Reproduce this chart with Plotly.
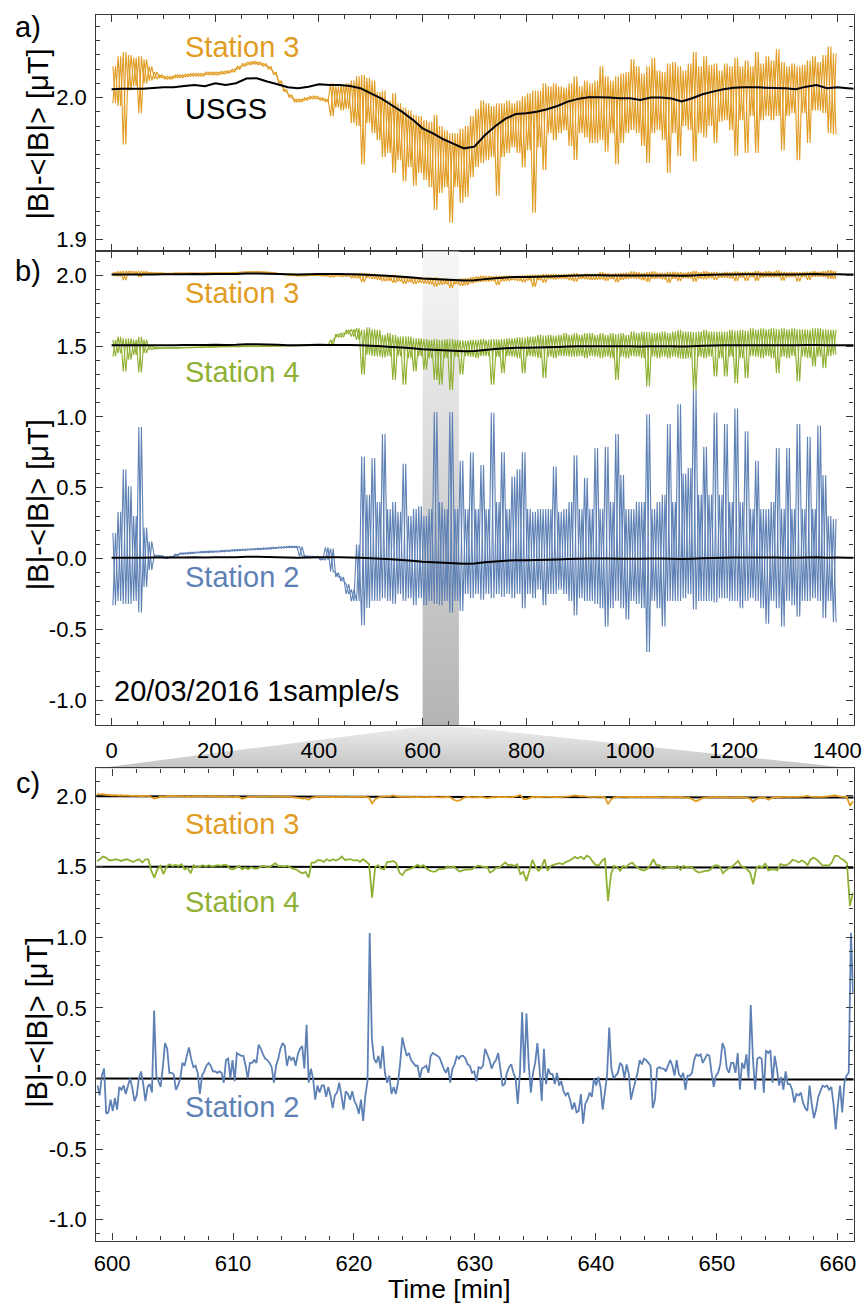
import plotly.graph_objects as go

FIG_W, FIG_H = 868, 1306
FONT = "Liberation Sans, Arial, Helvetica, sans-serif"
ORANGE = "#E19C24"
BLUE = "#5E81B5"
GREEN = "#8FB032"
FRAME = "#3a3a3a"

# ---------------------------------------------------------------------------
# Full day, 1 sample/s, summarised as min / max per 10-minute bin
# ---------------------------------------------------------------------------
bin_t = list(range(5, 1400, 10))  # bin centres [min]

st3_lo = [
    1.996, 1.994, 1.967, 2.005, 2.008, 1.989, 2.010, 2.012, 2.013, 2.014,
    2.013, 2.013, 2.014, 2.014, 2.0145, 2.015, 2.015, 2.015, 2.016, 2.016,
    2.016, 2.0165, 2.017, 2.018, 2.020, 2.022, 2.023, 2.0235, 2.023, 2.022,
    2.020, 2.016, 2.010, 2.004, 2.000, 1.997, 1.997, 1.998, 1.999, 1.999,
    1.998, 1.997, 1.987, 1.993, 1.991, 1.992, 1.982, 1.980, 1.953, 1.982,
    1.975, 1.970, 1.958, 1.961, 1.947, 1.956, 1.941, 1.951, 1.938, 1.947,
    1.942, 1.937, 1.921, 1.933, 1.937, 1.912, 1.937, 1.926, 1.930, 1.944,
    1.951, 1.954, 1.956, 1.958, 1.931, 1.958, 1.961, 1.965, 1.961, 1.951,
    1.963, 1.919, 1.965, 1.949, 1.975, 1.970, 1.975, 1.977, 1.966, 1.956,
    1.975, 1.972, 1.968, 1.968, 1.970, 1.962, 1.975, 1.953, 1.968, 1.975,
    1.977, 1.975, 1.966, 1.954, 1.975, 1.977, 1.970, 1.947, 1.975, 1.959,
    1.980, 1.977, 1.955, 1.975, 1.972, 1.980, 1.968, 1.983, 1.984, 1.977,
    1.959, 1.984, 1.961, 1.987, 1.961, 1.984, 1.987, 1.984, 1.987, 1.963,
    1.987, 1.989, 1.956, 1.989, 1.968, 1.991, 1.991, 1.989, 1.975, 1.974,
]
st3_hi = [
    2.022, 2.029, 2.032, 2.030, 2.028, 2.029, 2.027, 2.022, 2.018, 2.016,
    2.015, 2.015, 2.016, 2.016, 2.0165, 2.017, 2.017, 2.017, 2.018, 2.018,
    2.018, 2.0185, 2.019, 2.020, 2.022, 2.024, 2.025, 2.0255, 2.025, 2.024,
    2.022, 2.018, 2.012, 2.006, 2.002, 1.999, 1.999, 2.000, 2.001, 2.001,
    2.000, 1.999, 2.010, 2.008, 2.009, 2.010, 2.012, 2.015, 2.016, 2.014,
    2.012, 2.004, 2.005, 1.998, 2.003, 1.996, 1.993, 1.991, 1.988, 1.987,
    1.984, 1.983, 1.988, 1.980, 1.977, 1.975, 1.975, 1.978, 1.980, 1.987,
    1.992, 1.998, 1.996, 1.994, 1.996, 1.996, 1.998, 1.996, 1.998, 2.001,
    2.003, 2.005, 2.005, 2.010, 2.008, 2.010, 2.008, 2.007, 2.010, 2.015,
    2.008, 2.012, 2.010, 2.012, 2.022, 2.015, 2.012, 2.015, 2.017, 2.018,
    2.027, 2.022, 2.017, 2.022, 2.028, 2.019, 2.018, 2.024, 2.025, 2.022,
    2.019, 2.024, 2.032, 2.022, 2.029, 2.023, 2.024, 2.019, 2.024, 2.022,
    2.028, 2.022, 2.026, 2.022, 2.032, 2.024, 2.029, 2.026, 2.034, 2.025,
    2.022, 2.024, 2.022, 2.023, 2.026, 2.029, 2.025, 2.030, 2.036, 2.031,
]

st4_lo = [
    1.427, 1.450, 1.321, 1.404, 1.439, 1.314, 1.451, 1.474, 1.479, 1.483,
    1.484, 1.484, 1.485, 1.486, 1.487, 1.488, 1.489, 1.490, 1.491, 1.492,
    1.493, 1.494, 1.494, 1.495, 1.495, 1.496, 1.497, 1.497, 1.497, 1.498,
    1.498, 1.499, 1.499, 1.500, 1.500, 1.501, 1.502, 1.502, 1.503, 1.504,
    1.505, 1.506, 1.502, 1.564, 1.564, 1.587, 1.568, 1.545, 1.298, 1.439,
    1.430, 1.427, 1.420, 1.430, 1.262, 1.430, 1.227, 1.415, 1.321, 1.430,
    1.333, 1.415, 1.262, 1.227, 1.415, 1.190, 1.425, 1.298, 1.430, 1.425,
    1.415, 1.430, 1.430, 1.227, 1.425, 1.309, 1.430, 1.425, 1.415, 1.309,
    1.430, 1.425, 1.415, 1.274, 1.425, 1.415, 1.430, 1.430, 1.425, 1.425,
    1.430, 1.415, 1.430, 1.425, 1.415, 1.425, 1.415, 1.262, 1.425, 1.415,
    1.430, 1.425, 1.415, 1.215, 1.425, 1.415, 1.425, 1.415, 1.425, 1.415,
    1.410, 1.415, 1.190, 1.425, 1.415, 1.425, 1.286, 1.415, 1.286, 1.425,
    1.239, 1.415, 1.274, 1.430, 1.425, 1.415, 1.430, 1.415, 1.309, 1.425,
    1.415, 1.430, 1.250, 1.425, 1.415, 1.356, 1.425, 1.345, 1.430, 1.439,
]
st4_hi = [
    1.545, 1.568, 1.556, 1.556, 1.545, 1.566, 1.545, 1.509, 1.493, 1.489,
    1.490, 1.490, 1.491, 1.492, 1.493, 1.494, 1.495, 1.496, 1.497, 1.498,
    1.499, 1.500, 1.500, 1.501, 1.501, 1.502, 1.503, 1.503, 1.503, 1.504,
    1.504, 1.505, 1.505, 1.506, 1.506, 1.507, 1.508, 1.508, 1.509, 1.510,
    1.511, 1.512, 1.545, 1.585, 1.592, 1.615, 1.620, 1.627, 1.615, 1.634,
    1.620, 1.615, 1.580, 1.592, 1.580, 1.568, 1.570, 1.568, 1.556, 1.556,
    1.550, 1.545, 1.550, 1.545, 1.548, 1.550, 1.545, 1.542, 1.540, 1.545,
    1.545, 1.550, 1.545, 1.550, 1.548, 1.550, 1.556, 1.556, 1.563, 1.560,
    1.568, 1.568, 1.580, 1.575, 1.580, 1.575, 1.580, 1.592, 1.580, 1.592,
    1.580, 1.592, 1.592, 1.580, 1.592, 1.580, 1.592, 1.585, 1.592, 1.580,
    1.604, 1.592, 1.604, 1.600, 1.592, 1.596, 1.604, 1.592, 1.604, 1.615,
    1.604, 1.604, 1.600, 1.604, 1.615, 1.604, 1.604, 1.604, 1.604, 1.615,
    1.610, 1.615, 1.610, 1.627, 1.615, 1.627, 1.620, 1.627, 1.620, 1.627,
    1.620, 1.627, 1.620, 1.620, 1.615, 1.627, 1.627, 1.620, 1.615, 1.615,
]

st2_lo = [
    -0.33, -0.30, -0.32, -0.32, -0.30, -0.38, -0.20, -0.08, 0.015, 0.012,
    0.000, 0.005, 0.020, 0.030, 0.032, 0.035, 0.038, 0.040, 0.042, 0.044,
    0.045, 0.048, 0.050, 0.053, 0.055, 0.057, 0.059, 0.061, 0.063, 0.065,
    0.067, 0.070, 0.073, 0.075, 0.077, 0.077, 0.016, 0.012, 0.010, 0.008,
    -0.010, -0.010, -0.090, -0.130, -0.160, -0.250, -0.300, -0.300, -0.470, -0.350,
    -0.30, -0.30, -0.28, -0.30, -0.32, -0.25, -0.30, -0.28, -0.33, -0.28,
    -0.33, -0.30, -0.32, -0.33, -0.30, -0.38, -0.30, -0.37, -0.25, -0.28,
    -0.25, -0.29, -0.25, -0.28, -0.25, -0.27, -0.25, -0.28, -0.25, -0.35,
    -0.25, -0.28, -0.22, -0.33, -0.25, -0.25, -0.22, -0.25, -0.30, -0.40,
    -0.28, -0.30, -0.30, -0.32, -0.35, -0.48, -0.35, -0.30, -0.35, -0.43,
    -0.30, -0.32, -0.35, -0.66, -0.30, -0.35, -0.48, -0.30, -0.30, -0.30,
    -0.28, -0.25, -0.36, -0.30, -0.30, -0.30, -0.31, -0.28, -0.28, -0.30,
    -0.30, -0.35, -0.30, -0.28, -0.30, -0.35, -0.46, -0.30, -0.35, -0.48,
    -0.30, -0.33, -0.41, -0.30, -0.30, -0.28, -0.30, -0.42, -0.30, -0.45,
]
st2_hi = [
    0.18, 0.33, 0.63, 0.51, 0.30, 0.93, 0.22, 0.12, 0.025, 0.022,
    0.010, 0.015, 0.030, 0.040, 0.042, 0.045, 0.048, 0.050, 0.052, 0.054,
    0.055, 0.058, 0.060, 0.063, 0.065, 0.067, 0.069, 0.071, 0.073, 0.075,
    0.077, 0.080, 0.083, 0.085, 0.087, 0.087, 0.085, 0.020, 0.018, 0.016,
    0.000, 0.080, 0.070, -0.100, -0.130, -0.180, -0.220, 0.100, 0.720, 0.450,
    0.71, 0.40, 0.88, 0.35, 0.40, 0.33, 0.67, 0.30, 0.35, 0.37,
    0.30, 0.35, 1.035, 0.40, 0.35, 1.035, 0.35, 0.69, 0.35, 0.75,
    0.35, 0.66, 0.35, 1.03, 0.40, 0.75, 0.35, 0.58, 0.63, 0.75,
    0.35, 0.33, 0.35, 0.35, 0.35, 0.65, 0.33, 0.35, 0.40, 0.73,
    0.35, 0.57, 0.35, 0.78, 0.35, 0.79, 0.40, 0.88, 0.59, 0.35,
    0.35, 0.40, 0.40, 1.02, 0.35, 0.40, 0.45, 0.95, 0.40, 1.09,
    0.60, 0.64, 1.19, 0.45, 0.79, 0.45, 1.03, 0.45, 0.95, 0.40,
    1.06, 0.40, 0.90, 0.35, 0.69, 0.35, 0.35, 0.40, 0.78, 0.35,
    0.78, 0.35, 0.95, 0.35, 0.86, 0.35, 0.94, 0.59, 0.30, 0.28,
]

# USGS reference magnetometer, 20-minute values
usgs_t = list(range(0, 1441, 20))
usgs_v = [
    2.0059, 2.0063, 2.0063, 2.0063, 2.0068, 2.0073, 2.0073, 2.0082, 2.0089, 2.0080,
    2.0101, 2.0089, 2.0101, 2.0134, 2.0136, 2.0113, 2.0094, 2.0073, 2.0066, 2.0077,
    2.0094, 2.0089, 2.0089, 2.0082, 2.0066, 2.0030, 1.9995, 1.9948, 1.9901, 1.9847,
    1.9784, 1.9749, 1.9707, 1.9674, 1.9643, 1.9655, 1.9735, 1.9798, 1.9852, 1.9885,
    1.9890, 1.9901, 1.9918, 1.9941, 1.9972, 1.9991, 2.0002, 2.0002, 2.0000, 1.9995,
    1.9995, 1.9984, 2.0000, 2.0000, 1.9993, 1.9972, 1.9995, 2.0023, 2.0042, 2.0059,
    2.0070, 2.0073, 2.0073, 2.0070, 2.0068, 2.0066, 2.0059, 2.0077, 2.0089, 2.0066,
    2.0073, 2.0066, 2.0059,
]
usgs_shift = {"Station 3": 0.0, "Station 4": -0.5, "Station 2": -2.0}

zoom_window = [600, 670]  # minutes shown in the detail panel

# ---------------------------------------------------------------------------
# Detail panel c
# ---------------------------------------------------------------------------
st2_c_t0, st2_c_dt = 598.8, 0.18
st2_c = [
    -0.05, -0.12, 0.02, 0.07, -0.25, -0.24, -0.15, -0.23, -0.14, -0.22,
    -0.06, -0.08, -0.05, -0.11, -0.05, 0.00, -0.07, -0.16, -0.12, 0.00,
    0.05, -0.04, -0.16, -0.06, -0.04, -0.10, 0.48, 0.02, -0.02, -0.06,
    0.08, 0.25, 0.21, 0.04, 0.04, 0.03, -0.08, -0.05, 0.00, 0.11,
    0.09, 0.16, 0.22, 0.14, 0.08, 0.09, 0.04, -0.11, 0.02, 0.05,
    0.09, 0.11, 0.09, 0.05, 0.05, 0.04, 0.05, 0.04, -0.03, 0.13,
    0.14, 0.00, 0.13, -0.02, 0.18, 0.17, 0.16, 0.16, 0.09, 0.00,
    0.11, 0.11, 0.13, 0.11, 0.24, 0.21, 0.17, 0.14, 0.13, 0.11,
    0.08, -0.03, 0.09, 0.14, 0.21, 0.25, 0.23, 0.09, 0.16, 0.13,
    0.15, 0.09, 0.17, 0.21, 0.23, 0.07, 0.38, -0.03, 0.07, 0.00,
    -0.15, -0.05, -0.10, -0.05, -0.05, -0.13, -0.06, -0.12, -0.21, -0.12,
    -0.10, -0.03, -0.12, -0.22, -0.09, -0.11, -0.15, -0.09, -0.16, -0.19,
    -0.25, -0.15, -0.30, -0.12, -0.02, 1.03, 0.28, 0.14, 0.11, 0.16,
    0.07, 0.23, 0.04, -0.03, 0.02, -0.11, -0.06, -0.11, -0.03, 0.11,
    0.29, 0.22, 0.16, 0.18, 0.13, 0.11, 0.09,
    0.09, 0.00, 0.07, 0.08, 0.09, 0.04, 0.16, 0.18, 0.17, 0.16,
    0.15, 0.11, 0.07, 0.04, 0.08, -0.03, 0.07, 0.10, 0.16, 0.14,
    0.16, 0.16, 0.14, 0.10, 0.09, 0.04, 0.05, -0.02, 0.08, 0.07,
    0.09, 0.21, 0.17, 0.13, 0.07, 0.11, 0.13, 0.18, 0.07, -0.05,
    -0.04, 0.04, 0.08, 0.10, 0.04, 0.00, -0.18, 0.04, 0.47,
    0.04, 0.46, 0.11, -0.10, 0.04, 0.11, 0.25, 0.07, -0.16, 0.21,
    -0.04, 0.07, 0.03, 0.03, -0.04, 0.04, -0.05, -0.02, -0.09, -0.12,
    -0.10, -0.15, -0.22, -0.17, -0.24, -0.23, -0.11, -0.32, -0.18,
    -0.15, -0.10, -0.13, 0.00, -0.05, 0.01, -0.06, -0.22, -0.10, 0.02, 0.36,
    0.07, 0.00, 0.02, 0.04, 0.11, 0.09, 0.00, 0.10, 0.03, -0.15,
    -0.08, -0.02, 0.04, 0.13, 0.10, 0.14, 0.13, 0.11, 0.09, -0.21,
    -0.15, 0.07, 0.08, 0.07, 0.07, 0.05, 0.09, 0.13, 0.09,
    0.02, 0.13, 0.03, 0.01, 0.04, -0.08, 0.02, 0.02, 0.04, 0.13,
    0.17, 0.16, 0.17, 0.11, 0.14, 0.17, 0.16, 0.04, -0.06, 0.02,
    0.04, 0.10, 0.25, 0.21, 0.07, 0.04, 0.11, 0.11, 0.04, 0.18,
    -0.08, 0.11, 0.07, 0.17, 0.00, 0.52,
    0.14, -0.08, 0.14, 0.15, 0.14, -0.10, 0.20, 0.18, 0.20, -0.03,
    0.16, 0.07, -0.05, 0.01, -0.08, 0.05, -0.04, -0.04, -0.08, -0.17,
    -0.11, -0.12, -0.10, -0.17, -0.21, -0.23, -0.05, -0.18, -0.28, -0.22,
    -0.13, -0.09, -0.05, -0.06, -0.05, -0.08, -0.06, -0.18, -0.36, -0.19,
    -0.05, -0.24, -0.03, 0.02, 0.04, 1.03, 0.60,
]

c_t0, c_dt = 598.75, 0.25
st4_c = [
    1.539, 1.551, 1.570, 1.563, 1.544, 1.544, 1.551, 1.546, 1.539, 1.546,
    1.551, 1.542, 1.532, 1.544, 1.551, 1.528, 1.551, 1.551, 1.469, 1.421,
    1.480, 1.504, 1.445, 1.499, 1.516, 1.504, 1.511, 1.504, 1.516, 1.480,
    1.492, 1.452, 1.509, 1.492, 1.499, 1.509, 1.499, 1.509, 1.499, 1.504,
    1.509, 1.504, 1.511, 1.509, 1.485, 1.480, 1.492, 1.504, 1.480, 1.492,
    1.480, 1.495, 1.485, 1.485, 1.497, 1.504, 1.497, 1.495, 1.509, 1.523,
    1.502, 1.504, 1.499, 1.506, 1.492, 1.483, 1.478, 1.462, 1.452, 1.462,
    1.421, 1.528, 1.528, 1.544, 1.544, 1.532, 1.551, 1.539, 1.551, 1.542,
    1.551, 1.570, 1.546, 1.551, 1.551, 1.542, 1.546, 1.532, 1.551, 1.535,
    1.516, 1.280, 1.495, 1.509, 1.485, 1.480, 1.532, 1.532, 1.539, 1.523,
    1.457, 1.438, 1.471, 1.480, 1.487, 1.497, 1.513, 1.499, 1.509, 1.485,
    1.471, 1.464, 1.466, 1.480, 1.483, 1.485, 1.502, 1.492, 1.499, 1.480,
    1.464, 1.473, 1.480, 1.478, 1.480, 1.497, 1.506, 1.502, 1.495, 1.497,
    1.457, 1.469, 1.490, 1.492, 1.509, 1.528, 1.509, 1.513, 1.504, 1.516,
    1.445, 1.462, 1.398, 1.469, 1.546, 1.499, 1.469, 1.492, 1.551, 1.469,
    1.504, 1.511, 1.518, 1.523, 1.516, 1.532, 1.539, 1.551, 1.568, 1.556,
    1.570, 1.551, 1.577, 1.565, 1.532, 1.509, 1.509, 1.539, 1.558, 1.256,
    1.445, 1.504, 1.497, 1.469, 1.504, 1.495, 1.516, 1.528, 1.504, 1.490,
    1.476, 1.471, 1.485, 1.509, 1.551, 1.509, 1.509, 1.483, 1.487, 1.495,
    1.495, 1.492, 1.504, 1.476, 1.504, 1.495, 1.499, 1.490, 1.469, 1.457,
    1.462, 1.469, 1.469, 1.480, 1.504, 1.509, 1.499, 1.452, 1.473, 1.490,
    1.499, 1.518, 1.539, 1.504, 1.492, 1.480, 1.457, 1.374, 1.487, 1.504,
    1.492, 1.523, 1.473, 1.480, 1.480, 1.473, 1.516, 1.509, 1.509, 1.523,
    1.546, 1.542, 1.528, 1.542, 1.532, 1.509, 1.551, 1.561, 1.549, 1.528,
    1.506, 1.509, 1.506, 1.528, 1.575, 1.575, 1.556, 1.544, 1.523, 1.221,
    1.315,
]
st3_c = [
    2.012, 2.010, 2.011, 2.008, 2.006, 2.004, 2.005, 2.002, 2.004, 2.001,
    2.003, 2.000, 1.999, 2.002, 2.000, 1.997, 1.999, 2.000, 1.990, 1.981,
    1.985, 1.996, 1.992, 1.998, 2.000, 1.997, 1.999, 1.996, 1.998, 1.994,
    1.997, 1.993, 1.998, 1.996, 1.998, 1.997, 1.995, 1.998, 1.996, 1.997,
    1.995, 1.997, 1.994, 1.996, 1.993, 1.990, 1.994, 1.992, 1.979, 1.986,
    1.993, 1.995, 1.992, 1.994, 1.996, 1.993, 1.995, 1.994, 1.996, 1.997,
    1.994, 1.996, 1.993, 1.995, 1.992, 1.990, 1.987, 1.984, 1.980, 1.984,
    1.972, 1.986, 1.990, 1.993, 1.995, 1.992, 1.994, 1.991, 1.993, 1.990,
    1.992, 1.994, 1.991, 1.993, 1.992, 1.995, 1.993, 1.992, 1.994, 1.991,
    1.988, 1.945, 1.975, 1.988, 1.992, 1.994, 1.996, 1.998, 2.003, 1.997,
    1.993, 1.995, 1.992, 1.994, 1.993, 1.990, 1.992, 1.991, 1.993, 1.992,
    1.990, 1.992, 1.991, 1.989, 1.991, 1.990, 1.992, 1.988, 1.972, 1.965,
    1.968, 1.982, 1.990, 1.992, 1.989, 1.991, 1.990, 1.992, 1.989, 1.984,
    1.988, 1.991, 1.990, 1.992, 1.991, 1.993, 1.991, 1.990, 1.994, 1.998,
    2.006, 1.978, 1.976, 1.984, 1.992, 1.990, 1.993, 1.991, 1.994, 1.992,
    1.993, 1.991, 1.992, 1.990, 1.993, 1.995, 1.996, 1.999, 2.003, 2.000,
    1.996, 1.998, 1.995, 1.993, 1.991, 1.992, 1.994, 1.993, 1.990, 1.942,
    1.975, 1.988, 1.992, 1.991, 1.993, 1.992, 1.990, 1.993, 1.991, 1.992,
    1.990, 1.992, 1.991, 1.993, 1.990, 1.992, 1.991, 1.989, 1.991, 1.990,
    1.992, 1.991, 1.990, 1.992, 1.989, 1.987, 1.983, 1.975, 1.962, 1.970,
    1.982, 1.986, 1.989, 1.991, 1.990, 1.992, 1.989, 1.991, 1.990, 1.988,
    1.990, 1.989, 1.991, 1.990, 1.988, 1.986, 1.980, 1.958, 1.978, 1.986,
    1.989, 1.985, 1.972, 1.984, 1.989, 1.991, 1.990, 1.992, 1.993, 1.991,
    1.994, 1.992, 1.993, 1.995, 1.996, 2.000, 1.995, 1.993, 1.994, 1.992,
    1.993, 1.995, 1.997, 1.999, 2.004, 1.998, 1.994, 1.992, 1.990, 1.930,
    1.962,
]
c_ref_t = [598, 630, 662]
c_ref3 = [1.997, 1.992, 1.988]
c_ref4 = [1.499, 1.495, 1.491]
c_ref2 = [0.000, -0.004, -0.008]

# ---------------------------------------------------------------------------
# Geometry
# ---------------------------------------------------------------------------
XDOM = [94.5 / FIG_W, 861.5 / FIG_W]


def ydom(top_px, bot_px):
    return [1 - bot_px / FIG_H, 1 - top_px / FIG_H]


DOM_A = ydom(15, 251.5)
DOM_B = ydom(251.5, 725.5)
DOM_C = ydom(769, 1241.5)
XR_AB = [-29.5, 1431.4]
XR_C = [598.7, 661.3]
YR_A = [1.8919, 2.0581]
YR_B = [-1.175, 2.170]
YR_C = [-1.147, 2.194]


def envelope_path(centres, lo, hi, half=2.5):
    """Min/max per bin traced as two interleaved zig-zags (rising and
    falling), which renders like the densely over-plotted raw samples."""
    xs, ys = [], []
    for first, second in ((lo, hi), (hi, lo)):
        for t, a, b in zip(centres, first, second):
            xs.extend([t - half, t + half])
            ys.extend([a, b])
        xs.append(None)
        ys.append(None)
    return xs, ys


def grid(t0, dt, n):
    return [t0 + dt * i for i in range(n)]


def line(x, y, color, width, xa, ya):
    return go.Scatter(x=x, y=y, mode="lines", xaxis=xa, yaxis=ya,
                      line=dict(color=color, width=width, simplify=False),
                      connectgaps=False, hoverinfo="skip", showlegend=False)


fig = go.Figure()


# connector between the highlighted window in b and panel c (paper coords)
def to_paper_x(t):
    return XDOM[0] + (t - XR_AB[0]) / (XR_AB[1] - XR_AB[0]) * (XDOM[1] - XDOM[0])


top_y = DOM_B[0] - 1.5 / FIG_H
bot_y = DOM_C[1]
fig.add_trace(go.Scatter(
    x=[to_paper_x(zoom_window[0]), to_paper_x(zoom_window[1]), XDOM[1], XDOM[0], to_paper_x(zoom_window[0])],
    y=[top_y, top_y, bot_y, bot_y, top_y],
    mode="lines", fill="toself", line=dict(width=0, color="rgba(0,0,0,0)"),
    fillgradient=dict(type="vertical", colorscale=[[0, "#c4c4c4"], [1, "#ececec"]]),
    xaxis="x", yaxis="y", hoverinfo="skip", showlegend=False))

# ---- panel a ----
xs, ys = envelope_path(bin_t, st3_lo, st3_hi)
fig.add_trace(line(xs, ys, ORANGE, 1.1, "x2", "y2"))
fig.add_trace(line(usgs_t, usgs_v, "black", 2.0, "x2", "y2"))

# ---- panel b ----
fig.add_trace(go.Scatter(
    x=[zoom_window[0], zoom_window[1], zoom_window[1], zoom_window[0], zoom_window[0]],
    y=[YR_B[0], YR_B[0], YR_B[1], YR_B[1], YR_B[0]],
    mode="lines", fill="toself", line=dict(width=0, color="rgba(0,0,0,0)"),
    fillgradient=dict(type="vertical", colorscale=[[0, "#b4b4b4"], [1, "#f7f7f7"]]),
    xaxis="x3", yaxis="y3", hoverinfo="skip", showlegend=False))
for lo, hi, col in [(st3_lo, st3_hi, ORANGE), (st4_lo, st4_hi, GREEN), (st2_lo, st2_hi, BLUE)]:
    xs, ys = envelope_path(bin_t, lo, hi)
    fig.add_trace(line(xs, ys, col, 1.1, "x3", "y3"))
for name in ["Station 3", "Station 4", "Station 2"]:
    fig.add_trace(line(usgs_t, [v + usgs_shift[name] for v in usgs_v], "black", 2.0, "x3", "y3"))

# ---- panel c ----
for ref in (c_ref3, c_ref4, c_ref2):
    fig.add_trace(line(c_ref_t, ref, "black", 2.0, "x4", "y4"))
fig.add_trace(line(grid(c_t0, c_dt, len(st3_c)), st3_c, ORANGE, 1.8, "x4", "y4"))
fig.add_trace(line(grid(c_t0, c_dt, len(st4_c)), st4_c, GREEN, 1.8, "x4", "y4"))
fig.add_trace(line(grid(st2_c_t0, st2_c_dt, len(st2_c)), st2_c, BLUE, 1.8, "x4", "y4"))

# ---------------------------------------------------------------------------
# Axes
# ---------------------------------------------------------------------------
TICKFONT = dict(family=FONT, size=22, color="black")


def frame_axis(**kw):
    base = dict(showline=True, linecolor=FRAME, linewidth=1.3, mirror="ticks",
                ticks="inside", ticklen=7, tickwidth=1.2, tickcolor=FRAME,
                showgrid=False, zeroline=False, tickfont=TICKFONT, fixedrange=True)
    base.update(kw)
    return base


def minor(dtick):
    return dict(ticks="inside", ticklen=4, tickwidth=1.0, tickcolor=FRAME, dtick=dtick, showgrid=False)


x_ticks = list(range(0, 1401, 200))
y_ticks_bc = [-1.0, -0.5, 0.0, 0.5, 1.0, 1.5, 2.0]
y_text_bc = ["-1.0", "-0.5", "0.0", "0.5", "1.0", "1.5", "2.0"]
c_ticks = list(range(600, 661, 10))

fig.update_layout(
    width=FIG_W, height=FIG_H, margin=dict(l=0, r=0, t=0, b=0),
    paper_bgcolor="white", plot_bgcolor="rgba(0,0,0,0)",
    showlegend=False,
    xaxis=dict(domain=[0, 1], range=[0, 1], visible=False, fixedrange=True),
    yaxis=dict(domain=[0, 1], range=[0, 1], visible=False, fixedrange=True),
    xaxis2=frame_axis(domain=XDOM, range=XR_AB, anchor="y2", tickmode="array",
                      tickvals=x_ticks, showticklabels=False, minor=minor(50)),
    yaxis2=frame_axis(domain=DOM_A, range=YR_A, anchor="x2", tickmode="array",
                      tickvals=[1.9, 2.0], ticktext=["1.9", "2.0"], minor=minor(0.01),
                      ticklabelstandoff=4),
    xaxis3=frame_axis(domain=XDOM, range=XR_AB, anchor="y3", tickmode="array",
                      tickvals=x_ticks, ticktext=[str(v) for v in x_ticks], minor=minor(50),
                      ticklabelstandoff=6),
    yaxis3=frame_axis(domain=DOM_B, range=YR_B, anchor="x3", tickmode="array",
                      tickvals=y_ticks_bc, ticktext=y_text_bc, minor=minor(0.1),
                      ticklabelstandoff=4),
    xaxis4=frame_axis(domain=XDOM, range=XR_C, anchor="y4", tickmode="array",
                      tickvals=c_ticks, ticktext=[str(v) for v in c_ticks], minor=minor(2),
                      ticklabelstandoff=3),
    yaxis4=frame_axis(domain=DOM_C, range=YR_C, anchor="x4", tickmode="array",
                      tickvals=y_ticks_bc, ticktext=y_text_bc, minor=minor(0.1),
                      ticklabelstandoff=4),
)


def label(text, px, py, color="black", size=29, xanchor="left", angle=0, yanchor="middle"):
    fig.add_annotation(text=text, x=px / FIG_W, y=1 - py / FIG_H, xref="paper", yref="paper",
                       showarrow=False, xanchor=xanchor, yanchor=yanchor, textangle=angle,
                       borderpad=0, font=dict(family=FONT, size=size, color=color))


YTITLE = "|B|-&lt;|B|&gt; [μT]"
label("a)", 25.5, 27, xanchor="center")
label("b)", 25.5, 271, xanchor="center")
label("c)", 25.5, 784, xanchor="center")
for yc in (134, 505, 1023):
    label(YTITLE, 35, yc, xanchor="center", angle=-90)

label("Station 3", 183, 47, ORANGE)
label("USGS", 183, 109)
label("Station 3", 183, 293, ORANGE)
label("Station 4", 183, 372, GREEN)
label("Station 2", 183, 577.5, BLUE)
label("20/03/2016 1sample/s", 111, 692)
label("Station 3", 183, 825, ORANGE)
label("Station 4", 183, 903, GREEN)
label("Station 2", 183, 1108, BLUE)
label("Time [min]", 452, 1305.5, size=26.5, xanchor="center", yanchor="bottom")

fig.write_html("out.html")
